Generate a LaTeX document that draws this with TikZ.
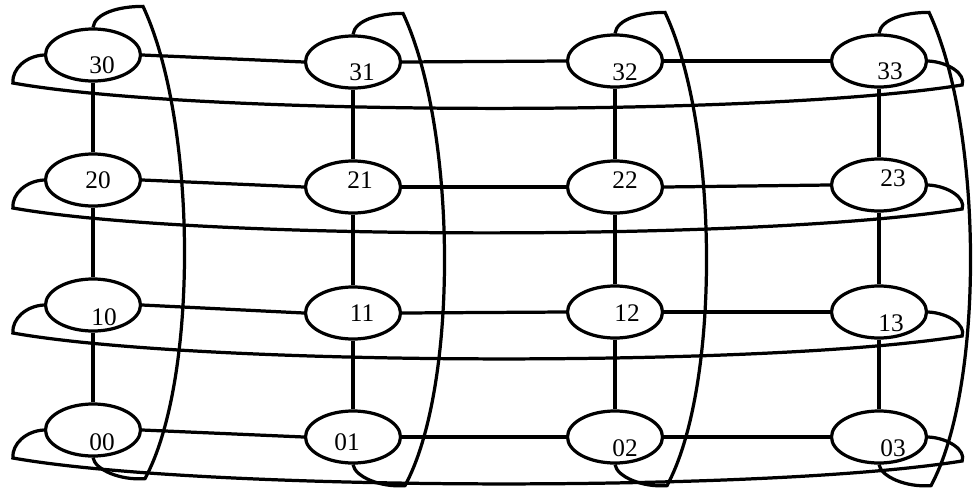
\documentclass[tikz,border=0pt]{standalone}
\usepackage{fontspec}
\setmainfont{Liberation Serif}
\usetikzlibrary{shapes.geometric,calc}

\tikzset{
  proc/.style={ellipse,draw,line width=2.3pt,fill=white,
    minimum width=2.375cm,minimum height=1.3cm,inner sep=0pt},
  tag/.style={font=\fontsize{18}{20}\selectfont},
  link/.style={line width=2.3pt}
}

\begin{document}
\begin{tikzpicture}[x=0.025cm,y=-0.025cm]
      \useasboundingbox (0,0) rectangle (973,487);
      % Processors
      \foreach \r/\c/\xx/\yy/\dx/\dy in {
          3/0/93/55/9/-10, 3/1/353/62/9/-10, 3/2/615/61/10/-11, 3/3/879/61/11/-10,
          2/0/93/180/5/0, 2/1/353/187/7/7, 2/2/615/187/10/7, 2/3/879/185/14/7,
          1/0/93/305/11/-12, 1/1/353/313/9/0, 1/2/615/312/12/-1, 1/3/879/312/12/-11,
          0/0/93/430/9/-12, 0/1/353/437/-6/-5, 0/2/615/437/10/-11, 0/3/879/437/14/-11}
        \node[proc,label={[tag,xshift=\dx*0.025cm,yshift=\dy*0.025cm]center:\r\c}]
          (n\r\c) at (\xx,\yy) {};
      % Mesh links
      \foreach \r in {0,...,3}
        \foreach \a/\b in {0/1,1/2,2/3}
          \draw[link] (n\r\a.east) -- (n\r\b.west);
      \foreach \c in {0,...,3}
        \foreach \a/\b in {3/2,2/1,1/0}
          \draw[link] (n\a\c.south) -- (n\b\c.north);
      % Row wrap-around
      \foreach \r in {0,...,3}
        \draw[link] (n\r0.west)
          .. controls +(-18,1) and +(-1,-14) .. ($(n\r0.west)+(-31,28)$)
          .. controls +(186,33) and +(-200,32) .. ($(n\r3.east)+(34,24)$)
          .. controls +(4,-11) and +(20,1) .. (n\r3.east);
      % Column wrap-around
      \foreach \c in {0,...,3}
        \draw[link] (n3\c.north)
          .. controls +(2,-14) and +(-25,0) .. ($(n3\c.north)+(50,-21)$)
          .. controls +(54,115) and +(54,-100) .. ($(n0\c.south)+(52,21)$)
          .. controls +(-25,2) and +(2,12) .. (n0\c.south);
    \end{tikzpicture}
\end{document}
